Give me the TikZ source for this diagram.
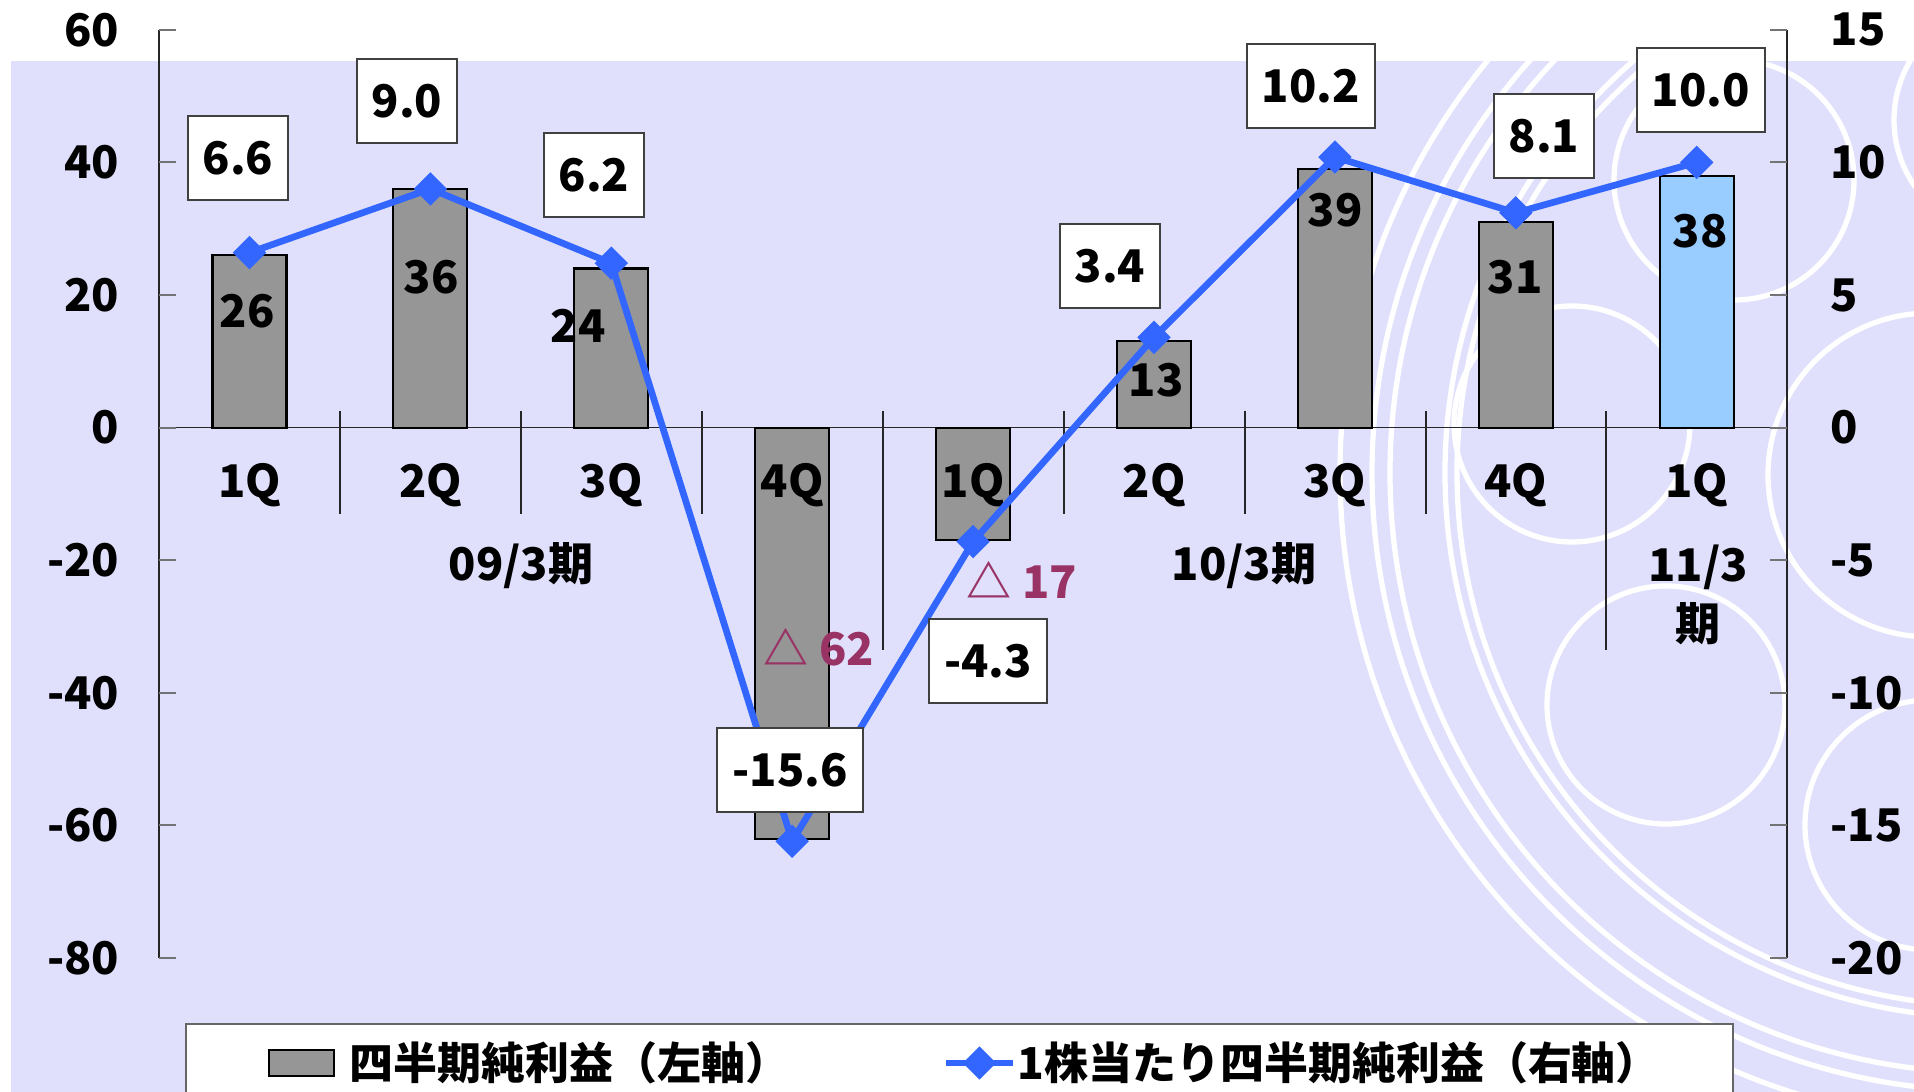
\documentclass[tikz,border=0pt]{standalone}
\usepackage{fontspec}
\setmainfont{Noto Sans CJK JP}
\usetikzlibrary{positioning,shapes.geometric}

\definecolor{bgblue}{RGB}{224,224,252}
\definecolor{bargray}{RGB}{150,150,150}
\definecolor{barblue}{RGB}{153,204,255}
\definecolor{epsblue}{RGB}{51,102,255}
\definecolor{negred}{RGB}{153,51,102}

\newcommand{\numfont}{\fontsize{12.8}{15}\selectfont\bfseries}
\newcommand{\legfont}{\fontsize{12.5}{14}\selectfont\bfseries}

\tikzset{
	axis/.style={draw=black!85, line width=0.45pt},
	tk/.style={draw=black!55, line width=0.6pt},
	bar/.style={draw=black, line width=0.6pt, fill=bargray},
	ring/.style={draw=white, line width=1.5pt},
	epsline/.style={draw=epsblue, line width=1.9pt},
	mk/.style={diamond, fill=epsblue, inner sep=0pt, minimum width=0.34cm, minimum height=0.34cm},
	lbl/.style={draw=black!75, fill=white, line width=0.6pt, inner xsep=0.15cm, inner ysep=0pt, minimum height=0.84cm, font=\numfont},
	val/.style={inner sep=0pt, font=\numfont},
	neg/.style={val, text=negred},
	axlbl/.style={inner sep=0pt, font=\numfont},
}

\begin{document}
\begin{tikzpicture}[x=0.01cm, y=-0.01cm]
	\useasboundingbox (0,0) rectangle (1914,1092);
	\fill[white] (0,0) rectangle (1914,1092);
	\fill[bgblue] (11,61) rectangle (1914,1092);
	
	% background rings
	\begin{scope}
		\clip (11,61) rectangle (1914,1092);
		\draw[ring] (1990,473) circle (650);
		\draw[ring] (1990,473) circle (618);
		\draw[ring] (1990,473) circle (600);
		\draw[ring] (1990,473) circle (545);
		\draw[ring] (1990,473) circle (533);
		\draw[ring] (1572,424) circle (118);
		\draw[ring] (1666,705) circle (119);
		\draw[ring] (1734,180) circle (120);
		\draw[ring] (1930,475) circle (162);
		\draw[ring] (1930,825) circle (125);
		\draw[ring] (2010,120) circle (116);
	\end{scope}
	
	% axes
	\draw[axis] (159,29.8) -- (159,958);
	\draw[axis] (1787,29.8) -- (1787,958);
	\draw[axis] (159,427.6) -- (1787,427.6);
	\draw[tk] (159,29.8) -- +(17,0) (159,162.4) -- +(17,0) (159,295) -- +(17,0) (159,427.6) -- +(17,0)
		(159,560.2) -- +(17,0) (159,692.8) -- +(17,0) (159,825.4) -- +(17,0) (159,958) -- +(17,0);
	\draw[tk] (1787,29.8) -- +(-17,0) (1787,162.4) -- +(-17,0) (1787,295) -- +(-17,0) (1787,427.6) -- +(-17,0)
		(1787,560.2) -- +(-17,0) (1787,692.8) -- +(-17,0) (1787,825.4) -- +(-17,0) (1787,958) -- +(-17,0);
	\draw[axis] (340,411) -- (340,514) (521,411) -- (521,514) (702,411) -- (702,514)
		(1064,411) -- (1064,514) (1245,411) -- (1245,514) (1426,411) -- (1426,514);
	\draw[axis] (883,411) -- (883,650) (1606,411) -- (1606,650);
	
	\node[axlbl, anchor=east] (l1) at (120,29.8) {60};
	\node[axlbl, anchor=east] (l2) at (120,162.4) {40};
	\node[axlbl, anchor=east] (l3) at (120,295) {20};
	\node[axlbl, anchor=east] (l4) at (120,427.6) {0};
	\node[axlbl, anchor=east] (l5) at (120,560.2) {-20};
	\node[axlbl, anchor=east] (l6) at (120,692.8) {-40};
	\node[axlbl, anchor=east] (l7) at (120,825.4) {-60};
	\node[axlbl, anchor=east] (l8) at (120,958) {-80};
	\node[axlbl, anchor=west] (r1) at (1830,29.8) {15};
	\node[axlbl, anchor=west] (r2) at (1830,162.4) {10};
	\node[axlbl, anchor=west] (r3) at (1830,295) {5};
	\node[axlbl, anchor=west] (r4) at (1830,427.6) {0};
	\node[axlbl, anchor=west] (r5) at (1830,560.2) {-5};
	\node[axlbl, anchor=west] (r6) at (1830,692.8) {-10};
	\node[axlbl, anchor=west] (r7) at (1830,825.4) {-15};
	\node[axlbl, anchor=west] (r8) at (1830,958) {-20};
	
	% bars
	\draw[bar] (212.5,427.6) rectangle (286.5,255.2);
	\draw[bar] (393.4,427.6) rectangle (467.4,188.9);
	\draw[bar] (574.3,427.6) rectangle (648.3,268.5);
	\draw[bar] (755.2,427.6) rectangle (829.2,838.7);
	\draw[bar] (936.1,427.6) rectangle (1010.1,540.3);
	\draw[bar] (1117,427.6) rectangle (1191,341.4);
	\draw[bar] (1297.9,427.6) rectangle (1371.9,169.0);
	\draw[bar] (1478.8,427.6) rectangle (1552.8,222.1);
	\draw[bar, fill=barblue] (1659.7,427.6) rectangle (1733.7,175.7);
	
	\node[val] (v1) at (247,311) {26};
	\node[val] (v2) at (431,277) {36};
	\node[val] (v3) at (578,326) {24};
	\node[neg] (v4) at (819,647) {△ 62};
	\node[neg] (v5) at (1022,580) {△ 17};
	\node[val] (v6) at (1156,380) {13};
	\node[val] (v7) at (1335,210) {39};
	\node[val] (v8) at (1515,277) {31};
	\node[val] (v9) at (1700,231) {38};
	
	% quarters and periods
	\node[val] (q1) at (249.5,485) {1Q};
	\node[val] (q2) at (430.4,485) {2Q};
	\node[val] (q3) at (611.3,485) {3Q};
	\node[val] (q4) at (792.2,485) {4Q};
	\node[val] (q5) at (973.1,485) {1Q};
	\node[val] (q6) at (1154,485) {2Q};
	\node[val] (q7) at (1334.9,485) {3Q};
	\node[val] (q8) at (1515.8,485) {4Q};
	\node[val] (q9) at (1696.7,485) {1Q};
	\node[val] (fy09) at (521,566) {09/3期};
	\node[val] (fy10) at (1244,566) {10/3期};
	\node[val] (fy11) at (1698,567) {11/3};
	\node[val] (fy11b) at (1698,624) {期};
	
	% per share line
	\node[mk] (e1) at (249.5,252.6) {};
	\node[mk] (e2) at (430.4,188.9) {};
	\node[mk] (e3) at (611.3,263.2) {};
	\node[mk] (e4) at (792.2,841.3) {};
	\node[mk] (e5) at (973.1,541.6) {};
	\node[mk] (e6) at (1154,337.4) {};
	\node[mk] (e7) at (1334.9,157.1) {};
	\node[mk] (e8) at (1515.8,212.8) {};
	\node[mk] (e9) at (1696.7,162.4) {};
	\draw[epsline, line join=round] (e1.center) -- (e2.center) -- (e3.center) -- (e4.center) -- (e5.center)
		-- (e6.center) -- (e7.center) -- (e8.center) -- (e9.center);
	
	\node[lbl] (d1) at (238,158) {6.6};
	\node[lbl] (d2) at (407,101) {9.0};
	\node[lbl] (d3) at (594,175) {6.2};
	\node[lbl] (d4) at (790,770) {-15.6};
	\node[lbl] (d5) at (988,661) {-4.3};
	\node[lbl] (d6) at (1110,266) {3.4};
	\node[lbl] (d7) at (1311,86) {10.2};
	\node[lbl] (d8) at (1544,136) {8.1};
	\node[lbl] (d9) at (1701,90) {10.0};
	
	% legend
	\fill[white] (186,1024) rectangle (1733,1092);
	\draw[draw=black!60, line width=0.8pt] (186,1095) |- (1733,1024) -- (1733,1095);
	\node[bar, minimum width=0.65cm, minimum height=0.26cm, inner sep=0pt] (lg1) at (301.5,1063) {};
	\node[inner sep=0pt, font=\legfont] (lt1) [right=0.14cm of lg1] {四半期純利益（左軸）};
	\coordinate (lb1) at (946,1063);
	\coordinate (lb2) at (1013,1063);
	\draw[epsline] (lb1) -- (lb2);
	\node[mk] (lgm) at (979.5,1063) {};
	\node[inner sep=0pt, font=\legfont, anchor=west] (lt2) at (1017,1063) {1株当たり四半期純利益（右軸）};
\end{tikzpicture}
\end{document}
